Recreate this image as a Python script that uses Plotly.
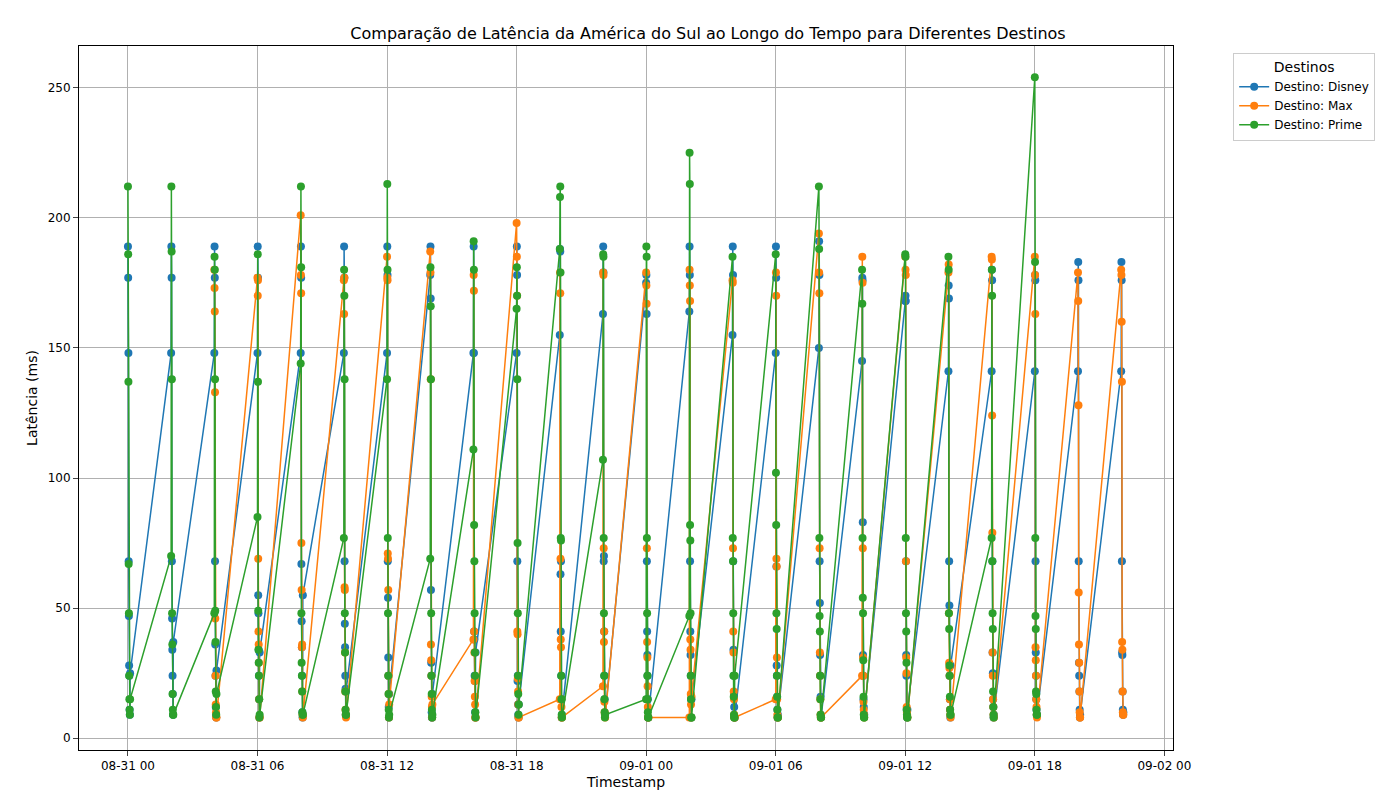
import plotly.graph_objects as go
import pandas as pd

cluster_starts = pd.date_range("2024-08-31 00:00", periods=24, freq="2h")

disney = [
 [189,177,148,68,47,28,24,11,9,25],
 [148,189,177,68,46,34,24,17,9,37],
 [148,189,177,68,36,24,12,9,8,26],
 [148,189,177,55,48,34,24,15,8,33],
 [148,189,177,67,45,35,24,10,8,55],
 [148,189,177,68,44,35,24,19,9,18],
 [148,189,178,68,54,31,24,12,8,17],
 [178,189,169,57,29,24,10,8,8,17],
 [148,189,148,41,38,24,22,10,8,33],
 [148,189,178,68,22,24,13,9,8,13],
 [155,188,187,63,41,68,24,15,8,9],
 [163,189,179,68,70,41,24,15,9,9],
 [175,178,163,68,41,32,24,15,8,8],
 [164,189,178,68,41,32,24,15,8,15],
 [155,189,178,68,34,24,17,12,8,8],
 [148,189,177,66,28,24,16,11,8,9],
 [150,191,178,68,52,32,24,16,9,8],
 [145,177,176,83,32,24,15,12,9,9],
 [168,170,168,68,32,24,11,9,8,11],
 [141,174,169,68,51,24,15,11,8,28],
 [141,180,176,68,33,25,15,12,8,9],
 [141,178,176,68,33,24,15,11,9,9],
 [141,183,176,68,29,24,18,11,8,9],
 [141,183,176,68,33,32,18,11,9,10],
]
maxv = [
 None, None,
 [180,173,164,133,46,24,13,10,8,8],
 [177,170,176,69,41,36,29,15,8,8],
 [201,178,171,75,57,35,36,18,9,8],
 [176,163,177,58,57,33,18,11,9,8],
 [185,177,176,71,69,57,24,17,8,13],
 [187,179,138,36,30,24,16,12,8,13],
 [38,178,172,41,33,22,16,13,8,8],
 [198,185,170,41,40,23,18,13,8,8],
 [15,179,171,69,38,35,15,12,8,8],
 [20,179,178,73,37,41,14,10,9,8],
 [179,174,167,73,37,31,20,12,8,8],
 [8,180,174,168,38,34,17,13,8,16],
 [176,175,73,41,33,18,15,9,8,8],
 [15,179,170,69,66,31,15,9,8,8],
 [194,179,171,73,33,24,15,9,8,8],
 [24,185,175,73,31,24,14,11,9,8],
 [185,180,178,68,31,25,12,10,9,8],
 [179,182,48,29,27,24,15,11,9,8],
 [185,184,124,79,33,24,15,12,9,8],
 [185,178,163,35,30,24,15,12,9,8],
 [179,168,128,56,36,29,18,10,8,8],
 [180,178,160,137,37,34,18,10,9,9],
]
prime = [
 [212,186,137,67,48,24,15,11,9,15],
 [70,212,187,138,48,36,17,11,9,9],
 [48,185,180,138,49,37,18,12,9,17],
 [85,186,137,49,34,29,24,15,8,9],
 [144,212,181,48,29,24,18,10,9,9],
 [77,180,170,138,48,33,18,11,9,9],
 [138,213,180,77,48,24,17,11,8,9],
 [69,181,166,138,48,24,17,11,8,9],
 [111,191,180,82,68,48,33,24,10,8],
 [165,181,170,138,75,48,24,17,9,13],
 [188,208,212,179,77,76,24,15,9,8],
 [107,186,185,77,48,24,15,10,8,9],
 [15,189,185,77,48,24,15,10,8,8],
 [47,225,213,82,76,48,24,15,8,8],
 [185,77,68,48,24,16,9,8,8,24],
 [186,102,82,48,42,24,16,11,8,8],
 [212,188,77,47,41,24,15,9,8,8],
 [180,167,77,54,48,30,16,9,8,8],
 [186,185,77,48,41,29,11,9,8,8],
 [185,180,48,42,28,24,16,11,9,9],
 [77,180,170,68,48,42,18,12,9,8],
 [254,183,77,47,42,18,17,11,9,9],
 None, None,
]

def build(data):
    xs, ys = [], []
    for start, vals in zip(cluster_starts, data):
        if vals is None:
            continue
        for i, v in enumerate(vals):
            xs.append(start + pd.Timedelta(seconds=40 * i))
            ys.append(v)
    return xs, ys

fig = go.Figure()
for name, data, color in [("Destino: Disney", disney, "#1f77b4"),
                          ("Destino: Max", maxv, "#ff7f0e"),
                          ("Destino: Prime", prime, "#2ca02c")]:
    x, y = build(data)
    fig.add_trace(go.Scatter(x=x, y=y, mode="lines+markers", name=name,
                             line=dict(color=color, width=1.5),
                             marker=dict(color=color, size=8)))

ticks = pd.date_range("2024-08-31", periods=9, freq="6h")
fig.update_layout(
    width=1400, height=800,
    paper_bgcolor="white", plot_bgcolor="white",
    font=dict(family="DejaVu Sans", size=12, color="black"),
    title=dict(text="Comparação de Latência da América do Sul ao Longo do Tempo para Diferentes Destinos",
               x=0.5, xanchor="center", y=0.975, font=dict(size=16)),
    margin=dict(l=71, r=235, t=38, b=58, autoexpand=False),
    legend=dict(title=dict(text="Destinos", side="top center"), x=1.055, y=0.99, xanchor="left", yanchor="top",
                bordercolor="#cccccc", borderwidth=1),
    xaxis=dict(title=dict(text="Timestamp", standoff=4), range=["2024-08-30 21:44", "2024-09-02 00:24"],
               tickvals=ticks, ticktext=[d.strftime("%m-%d %H") for d in ticks], automargin=False,
               showgrid=True, gridcolor="#b0b0b0", showline=True, linecolor="black", mirror=True,
               ticks="outside", zeroline=False),
    yaxis=dict(title=dict(text="Latência (ms)", standoff=6), range=[-4.5, 266], dtick=50, automargin=False,
               showgrid=True, gridcolor="#b0b0b0", showline=True, linecolor="black", mirror=True,
               ticks="outside", zeroline=False),
)
fig.write_html("out.html")
